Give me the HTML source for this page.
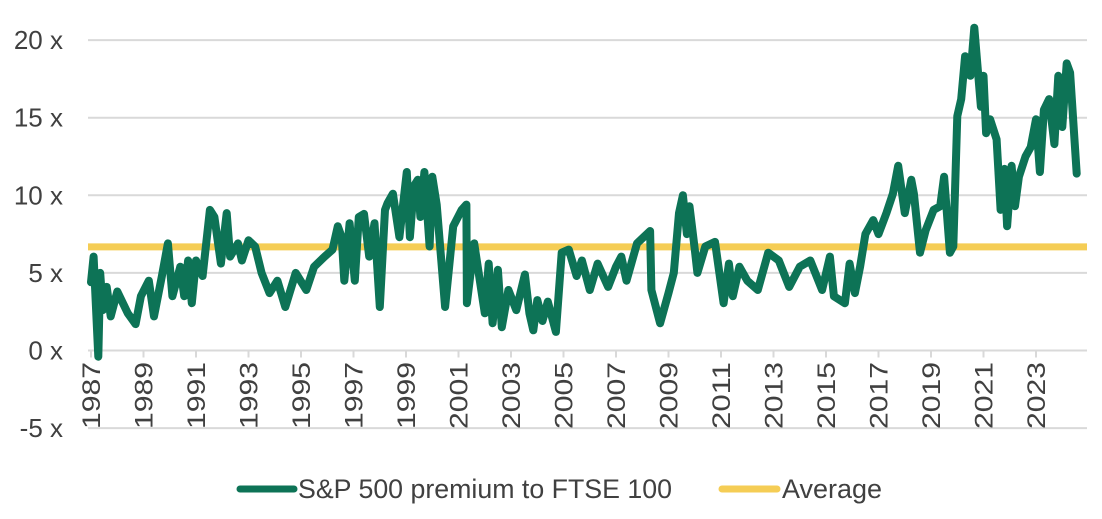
<!DOCTYPE html>
<html><head><meta charset="utf-8"><style>
html,body{margin:0;padding:0;background:#fff;}
svg{display:block;font-family:"Liberation Sans",sans-serif;}
</style></head><body>
<svg id="chart" width="1102" height="519">
<g id="grid"></g>
<g id="ylabels"></g>
<g id="xlabels"></g>
<g id="series"></g>
<g>
<line x1="240" y1="489" x2="294" y2="489" stroke="#0d7356" stroke-width="7" stroke-linecap="round"/>
<text x="298" y="498" font-size="27" fill="#404040" textLength="374" lengthAdjust="spacingAndGlyphs">S&amp;P 500 premium to FTSE 100</text>
<line x1="722" y1="489" x2="777" y2="489" stroke="#f5cd55" stroke-width="7" stroke-linecap="round"/>
<text x="782" y="498" font-size="27" fill="#404040" textLength="100" lengthAdjust="spacingAndGlyphs">Average</text>
</g>
</svg>
<script>
const years=[1987.0,1987.1,1987.28,1987.35,1987.45,1987.6,1987.75,1988.0,1988.4,1988.7,1988.9,1989.2,1989.4,1989.7,1989.93,1990.1,1990.4,1990.55,1990.7,1990.84,1991.0,1991.25,1991.53,1991.7,1991.95,1992.17,1992.3,1992.6,1992.75,1993.0,1993.25,1993.5,1993.8,1994.1,1994.4,1994.8,1995.2,1995.5,1995.9,1996.2,1996.4,1996.55,1996.65,1996.85,1997.05,1997.2,1997.4,1997.6,1997.8,1998.0,1998.2,1998.3,1998.5,1998.75,1999.03,1999.15,1999.3,1999.45,1999.55,1999.7,1999.9,2000.0,2000.17,2000.49,2000.8,2001.12,2001.3,2001.32,2001.6,2002.0,2002.15,2002.3,2002.5,2002.65,2002.9,2003.2,2003.53,2003.7,2003.85,2004.0,2004.2,2004.4,2004.71,2004.93,2005.2,2005.5,2005.7,2006.0,2006.3,2006.7,2007.0,2007.2,2007.4,2007.8,2008.3,2008.35,2008.68,2009.0,2009.2,2009.4,2009.55,2009.7,2009.8,2010.0,2010.1,2010.4,2010.77,2011.1,2011.3,2011.45,2011.7,2012.0,2012.4,2012.8,2013.2,2013.6,2014.0,2014.4,2014.85,2015.15,2015.3,2015.72,2015.9,2016.1,2016.3,2016.5,2016.8,2017.0,2017.3,2017.55,2017.75,2018.0,2018.25,2018.35,2018.58,2018.8,2019.1,2019.35,2019.5,2019.72,2019.85,2020.0,2020.15,2020.3,2020.5,2020.65,2020.9,2021.0,2021.1,2021.25,2021.5,2021.65,2021.8,2021.9,2022.07,2022.2,2022.35,2022.6,2022.8,2023.0,2023.15,2023.3,2023.5,2023.7,2023.85,2024.0,2024.17,2024.3,2024.55,2024.7,2024.87];
const values=[4.4,6.05,-0.4,5.0,2.6,4.1,2.2,3.8,2.4,1.7,3.5,4.5,2.2,4.8,6.9,3.5,5.4,3.5,5.8,3.05,5.8,4.8,9.06,8.6,5.6,8.85,6.05,6.9,5.8,7.1,6.7,5.0,3.7,4.5,2.8,5.0,3.9,5.4,6.05,6.5,8.0,7.3,4.5,8.2,4.5,8.6,8.8,6.05,8.2,2.8,9.06,9.5,10.1,7.3,11.5,7.3,10.6,11.0,8.6,11.5,6.7,11.2,9.4,2.8,8.0,9.06,9.4,3.05,6.9,2.4,5.6,1.75,5.2,1.5,3.9,2.6,4.9,2.4,1.3,3.25,1.9,3.15,1.2,6.3,6.5,4.8,5.8,3.9,5.6,4.1,5.4,6.05,4.5,6.9,7.7,3.9,1.75,3.7,5.0,8.85,10.0,7.5,9.3,6.5,5.0,6.7,7.0,3.05,5.6,3.5,5.4,4.5,3.9,6.3,5.8,4.1,5.4,5.8,3.9,6.05,3.5,3.05,5.6,3.7,5.4,7.5,8.4,7.5,8.85,10.1,11.9,8.85,11.0,10.1,6.3,7.75,9.06,9.3,11.2,6.3,6.7,15.1,16.2,18.96,17.7,20.8,15.7,17.7,14.0,14.9,13.6,9.06,11.7,8.0,11.9,9.3,11.2,12.5,13.1,14.9,11.5,15.5,16.2,13.3,17.7,14.4,18.5,17.9,11.4];
const averageValue=6.68;
const yTicks=[20,15,10,5,0,-5];
const xTickYears=[1987,1989,1991,1993,1995,1997,1999,2001,2003,2005,2007,2009,2011,2013,2015,2017,2019,2021,2023];

const NS="http://www.w3.org/2000/svg";
function X(yr){return 91+(yr-1987)*26.25;}
function Y(v){return 350.5-v*15.52;}
function mk(tag,attrs,parent){const e=document.createElementNS(NS,tag);for(const k in attrs)e.setAttribute(k,attrs[k]);parent.appendChild(e);return e;}
const grid=document.getElementById('grid'),yl=document.getElementById('ylabels'),xl=document.getElementById('xlabels'),ser=document.getElementById('series');
yTicks.forEach(t=>{
  const l=mk('line',{x1:88,x2:1087,y1:Y(t),y2:Y(t),stroke:'#d9d9d9','stroke-width':2},grid);
  
  
  const tx=mk('text',{x:63,y:Y(t)+9,'font-size':26,fill:'#404040','text-anchor':'end'},yl);
  tx.textContent=t+' x';
  
  
});
xTickYears.forEach(yr=>{
  const x=X(yr);
  const tk=mk('line',{x1:x,x2:x,y1:Y(0),y2:Y(0)+7,stroke:'#d9d9d9','stroke-width':2},xl);
  
  
  const tx=mk('text',{x:0,y:0,'font-size':25,fill:'#404040','text-anchor':'end',textLength:67,lengthAdjust:'spacingAndGlyphs',transform:`translate(${x+9},362) rotate(-90)`},xl);
  tx.textContent=yr;
  
  
});
const avg=mk('line',{x1:88,x2:1087,y1:Y(averageValue),y2:Y(averageValue),stroke:'#f5cd55','stroke-width':7},ser);


const pts=years.map((yr,i)=>X(yr).toFixed(1)+','+Y(values[i]).toFixed(1)).join(' ');
const pl=mk('polyline',{points:pts,fill:'none',stroke:'#0d7356','stroke-width':8,'stroke-linejoin':'round','stroke-linecap':'round'},ser);


</script>
</body></html>
